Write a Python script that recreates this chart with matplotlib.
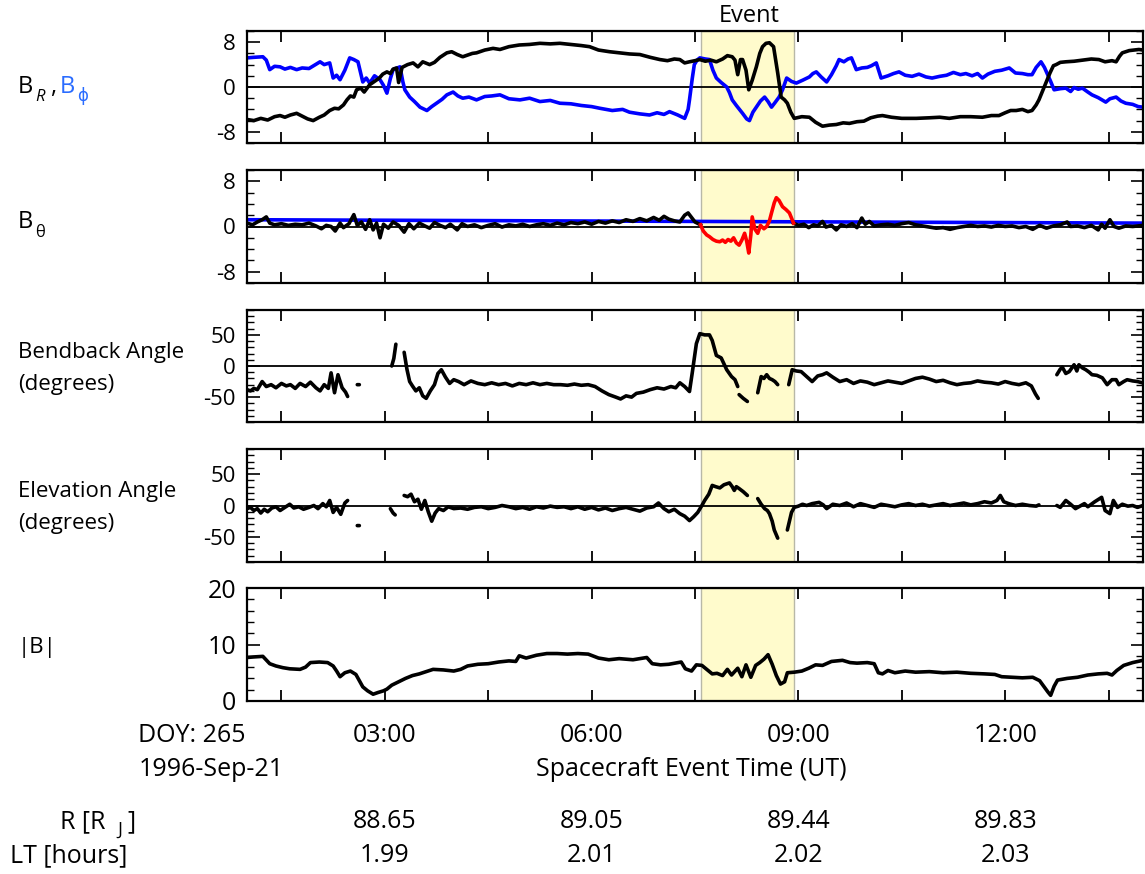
import matplotlib
matplotlib.use('Agg')
import matplotlib.pyplot as plt
from matplotlib.ticker import MultipleLocator
from matplotlib.transforms import blended_transform_factory
import numpy as np

plt.rcParams['font.family'] = ['Open Sans', 'DejaVu Sans']

nan = np.nan

# time in decimal hours UT, 1996-Sep-21
event_start, event_end = 7.58, 8.93

# B_R (black) and B_phi (blue), nT
br_pts = [(1.00, -5.8), (1.10, -6.0), (1.20, -5.6), (1.30, -5.9), (1.40, -5.3), (1.48, -5.1), (1.55, -5.4),
          (1.63, -5.0), (1.72, -4.7), (1.80, -5.2), (1.88, -5.7), (1.96, -6.0), (2.05, -5.4), (2.12, -5.0),
          (2.20, -4.2), (2.27, -3.8), (2.33, -3.9), (2.40, -3.2), (2.45, -2.3), (2.50, -1.6), (2.55, -1.8),
          (2.59, -0.5), (2.65, -0.2), (2.70, -0.9), (2.78, 0.4), (2.85, 1.0), (2.92, 1.6), (2.97, 2.3),
          (3.03, 2.7), (3.08, 2.4), (3.12, 3.2), (3.17, 3.4), (3.20, 0.8), (3.25, 3.5), (3.33, 4.0),
          (3.41, 4.3), (3.48, 3.6), (3.55, 4.5), (3.65, 4.0), (3.72, 4.4), (3.80, 5.3), (3.90, 6.1),
          (3.97, 6.3), (4.05, 5.8), (4.13, 5.4), (4.20, 5.7), (4.27, 6.0), (4.33, 6.1), (4.45, 6.6),
          (4.57, 6.9), (4.67, 6.7), (4.80, 7.2), (4.95, 7.5), (5.10, 7.6), (5.25, 7.8), (5.40, 7.7),
          (5.54, 7.8), (5.70, 7.6), (5.85, 7.4), (5.97, 7.2), (6.10, 6.6), (6.26, 6.3), (6.40, 6.1),
          (6.55, 5.9), (6.70, 5.8), (6.85, 5.3), (6.99, 4.9), (7.10, 4.7), (7.20, 5.0), (7.28, 4.9),
          (7.35, 4.3), (7.42, 4.5), (7.50, 4.7), (7.57, 4.9), (7.65, 4.6), (7.73, 4.8), (7.81, 4.5),
          (7.90, 5.0), (7.97, 5.6), (8.04, 5.4), (8.08, 4.8), (8.12, 2.2), (8.16, 4.9), (8.19, 4.9),
          (8.24, 3.0), (8.28, -0.5), (8.33, 1.2), (8.39, 3.6), (8.44, 6.0), (8.48, 7.2), (8.53, 7.8),
          (8.58, 7.9), (8.64, 7.2), (8.70, 2.5), (8.75, -1.8), (8.80, -2.3), (8.84, -2.9), (8.89, -4.5),
          (8.94, -5.6), (9.05, -5.3), (9.16, -5.4), (9.25, -6.3), (9.35, -7.0), (9.45, -6.8), (9.55, -6.7),
          (9.65, -6.4), (9.74, -6.5), (9.85, -6.2), (9.95, -6.1), (10.05, -5.5), (10.15, -5.2), (10.22, -5.1),
          (10.35, -5.4), (10.50, -5.6), (10.71, -5.6), (10.90, -5.5), (11.05, -5.4), (11.19, -5.6),
          (11.35, -5.3), (11.50, -5.3), (11.67, -5.4), (11.80, -5.1), (11.91, -5.1), (12.00, -4.6),
          (12.08, -4.2), (12.16, -4.2), (12.25, -4.0), (12.33, -4.4), (12.39, -4.2), (12.45, -3.2),
          (12.49, -2.3), (12.55, -0.5), (12.59, 0.7), (12.65, 2.5), (12.70, 3.8), (12.74, 4.0), (12.80, 4.4),
          (12.88, 4.5), (13.00, 4.6), (13.12, 4.8), (13.25, 5.0), (13.36, 4.9), (13.45, 4.5), (13.55, 4.7),
          (13.61, 4.5), (13.66, 5.5), (13.70, 6.1), (13.80, 6.5), (13.94, 6.7), (14.00, 6.6)]

bphi_pts = [(1.00, 5.2), (1.10, 5.3), (1.23, 5.4), (1.28, 4.8), (1.33, 3.1), (1.40, 3.7), (1.48, 3.6),
            (1.55, 3.2), (1.63, 3.5), (1.72, 3.1), (1.80, 3.4), (1.90, 3.3), (1.98, 3.9), (2.06, 4.5),
            (2.12, 4.0), (2.20, 4.3), (2.25, 1.6), (2.30, 2.1), (2.35, 1.3), (2.42, 3.0), (2.49, 5.2),
            (2.55, 4.9), (2.61, 4.5), (2.68, 0.9), (2.73, 1.6), (2.78, 0.7), (2.85, 2.0), (2.93, 1.3),
            (2.98, 0.3), (3.03, -1.1), (3.08, 1.5), (3.12, 3.1), (3.22, 3.6), (3.26, 1.0), (3.29, -0.5),
            (3.36, -1.8), (3.43, -2.6), (3.51, -3.6), (3.61, -4.2), (3.68, -3.5), (3.75, -2.9), (3.83, -2.2),
            (3.90, -1.4), (3.99, -0.9), (4.06, -1.6), (4.13, -2.0), (4.22, -1.8), (4.33, -2.3), (4.45, -1.7),
            (4.55, -1.6), (4.67, -1.4), (4.80, -2.1), (4.96, -2.3), (5.10, -2.0), (5.25, -2.6), (5.40, -2.4),
            (5.54, -2.9), (5.70, -3.0), (5.85, -3.3), (6.00, -3.5), (6.12, -3.8), (6.30, -4.2), (6.45, -4.0),
            (6.55, -4.5), (6.70, -4.8), (6.84, -5.0), (6.95, -4.6), (7.05, -4.9), (7.13, -4.4), (7.25, -5.0),
            (7.35, -5.6), (7.40, -4.0), (7.42, -2.3), (7.46, 1.5), (7.49, 4.0), (7.53, 4.8), (7.57, 5.2),
            (7.65, 5.0), (7.71, 4.9), (7.76, 3.0), (7.81, 1.6), (7.88, 0.8), (7.96, 0.0), (8.00, -1.0),
            (8.04, -2.3), (8.10, -3.3), (8.19, -4.7), (8.25, -5.7), (8.29, -6.0), (8.34, -4.5), (8.39, -3.6),
            (8.45, -2.5), (8.51, -1.8), (8.56, -2.6), (8.61, -3.6), (8.66, -2.8), (8.72, -1.8), (8.77, -0.5),
            (8.83, 1.6), (8.90, 1.0), (8.97, 0.7), (9.06, 1.2), (9.16, 1.8), (9.21, 2.4), (9.26, 2.7),
            (9.33, 1.8), (9.41, 0.9), (9.48, 2.2), (9.55, 3.8), (9.59, 4.9), (9.66, 4.5), (9.72, 5.0),
            (9.77, 5.2), (9.84, 3.1), (9.92, 3.4), (10.00, 3.5), (10.06, 3.8), (10.13, 4.3), (10.20, 1.6),
            (10.30, 2.0), (10.38, 2.4), (10.46, 2.7), (10.55, 2.1), (10.65, 1.9), (10.75, 2.3), (10.85, 1.8),
            (10.94, 1.6), (11.05, 1.9), (11.15, 2.1), (11.25, 2.6), (11.35, 2.2), (11.43, 2.4), (11.52, 2.0),
            (11.60, 2.4), (11.67, 1.6), (11.75, 2.3), (11.85, 2.8), (11.95, 3.0), (12.06, 3.4), (12.15, 2.5),
            (12.25, 2.4), (12.33, 2.2), (12.39, 2.2), (12.45, 3.5), (12.52, 4.5), (12.57, 3.5), (12.61, 2.4),
            (12.66, 1.0), (12.71, -0.5), (12.80, -0.3), (12.88, -0.2), (12.95, -0.8), (13.00, -0.1),
            (13.06, -0.4), (13.12, -0.2), (13.20, -0.9), (13.26, -1.4), (13.35, -1.9), (13.46, -2.7),
            (13.52, -2.1), (13.61, -1.8), (13.68, -2.5), (13.75, -2.9), (13.85, -3.1), (13.93, -3.5),
            (14.00, -3.6)]

# B_theta: black outside the event, red inside, blue reference level
bth_pre_pts = [(1.00, 0.6), (1.08, 0.3), (1.15, 0.8), (1.22, 1.2), (1.28, 1.7), (1.33, 0.6), (1.40, 0.3),
               (1.50, 0.5), (1.60, 0.2), (1.70, 0.4), (1.80, 0.3), (1.90, 0.6), (2.00, 0.1), (2.08, -0.4),
               (2.15, 0.2), (2.22, 0.0), (2.28, -0.8), (2.35, 0.6), (2.40, -0.2), (2.48, 0.5), (2.55, 2.1),
               (2.60, 0.2), (2.66, 0.8), (2.72, -0.5), (2.78, 1.2), (2.83, -0.6), (2.88, 0.6), (2.93, -2.0),
               (2.98, 0.4), (3.05, -0.3), (3.12, 0.8), (3.20, 0.2), (3.28, -1.0), (3.35, 0.5), (3.42, -0.4),
               (3.50, 0.6), (3.58, 0.1), (3.65, -0.3), (3.72, 0.7), (3.80, 0.2), (3.88, -0.2), (3.95, 0.4),
               (4.05, -0.6), (4.12, 0.5), (4.20, 0.0), (4.30, 0.3), (4.40, -0.2), (4.50, 0.2), (4.60, 0.5),
               (4.70, -0.1), (4.80, 0.3), (4.90, 0.1), (5.00, 0.4), (5.10, 0.0), (5.20, 0.3), (5.30, 0.5),
               (5.40, 0.2), (5.50, 0.6), (5.60, 0.3), (5.70, 0.7), (5.80, 0.5), (5.90, 0.8), (6.00, 0.4),
               (6.10, 0.9), (6.20, 0.6), (6.30, 1.0), (6.40, 0.7), (6.50, 1.2), (6.60, 0.9), (6.70, 1.4),
               (6.80, 1.0), (6.90, 1.6), (6.98, 1.1), (7.05, 1.8), (7.12, 1.3), (7.20, 1.0), (7.28, 0.8),
               (7.35, 2.0), (7.40, 2.4), (7.45, 1.6), (7.50, 0.8), (7.58, 0.3)]

bth_event_pts = [(7.58, 0.3), (7.62, -0.8), (7.67, -1.5), (7.71, -1.8), (7.76, -2.3), (7.81, -2.6),
                 (7.86, -2.7), (7.90, -2.4), (7.94, -2.8), (7.98, -2.3), (8.02, -2.6), (8.06, -2.0),
                 (8.10, -2.9), (8.14, -3.3), (8.18, -2.4), (8.22, -1.2), (8.25, -2.6), (8.28, -4.7),
                 (8.31, -1.5), (8.33, 1.7), (8.37, -0.5), (8.41, -1.2), (8.45, 0.2), (8.50, -0.4),
                 (8.54, 0.0), (8.58, 1.0), (8.61, 2.4), (8.65, 4.2), (8.68, 5.1), (8.72, 4.6), (8.77, 3.5),
                 (8.82, 3.0), (8.87, 2.4), (8.90, 1.5), (8.93, 0.6)]

bth_post_pts = [(8.93, 0.6), (9.00, 0.2), (9.08, 0.4), (9.15, -0.2), (9.22, 0.3), (9.28, 0.1), (9.35, 0.9),
                (9.40, -0.1), (9.48, 0.2), (9.55, -0.6), (9.62, 0.3), (9.70, 0.0), (9.78, 0.5), (9.85, -0.2),
                (9.92, 1.5), (9.97, 0.4), (10.03, 0.9), (10.10, 0.1), (10.20, 0.3), (10.30, 0.4), (10.40, 0.2),
                (10.50, 0.5), (10.60, 0.7), (10.70, 0.3), (10.80, 0.1), (10.90, -0.1), (11.00, -0.3),
                (11.10, -0.2), (11.20, -0.5), (11.30, -0.2), (11.40, 0.0), (11.50, 0.2), (11.60, 0.0),
                (11.70, 0.1), (11.80, -0.1), (11.90, 0.2), (12.00, 0.0), (12.10, 0.1), (12.20, -0.2),
                (12.30, 0.0), (12.40, -0.5), (12.50, 0.2), (12.60, -0.3), (12.70, 0.1), (12.80, 0.3),
                (12.90, 0.8), (12.95, 0.0), (13.05, 0.1), (13.15, -0.2), (13.25, 0.2), (13.35, -0.6),
                (13.40, 0.4), (13.45, -0.3), (13.52, 1.2), (13.58, 0.0), (13.65, -0.3), (13.75, 0.1),
                (13.85, 0.0), (14.00, 0.2)]

bth_ref_pts = [(1.00, 1.2), (14.00, 0.6)]

# bendback angle, degrees (nan = data gap)
bend_pts = [(1.00, -38), (1.05, -40), (1.10, -36), (1.15, -38), (1.22, -25), (1.28, -33), (1.35, -30),
            (1.42, -35), (1.50, -28), (1.57, -32), (1.63, -30), (1.70, -36), (1.77, -28), (1.85, -33),
            (1.92, -26), (2.00, -35), (2.06, -40), (2.12, -30), (2.18, -36), (2.22, -11), (2.27, -43),
            (2.32, -14), (2.38, -35), (2.43, -42), (2.46, -49), (2.50, nan),
            (2.60, -30), (2.63, -30), (2.70, nan),
            (3.10, 0), (3.13, 12), (3.16, 35), (3.20, nan),
            (3.28, 22), (3.32, -5), (3.36, -25), (3.40, -32), (3.45, -40), (3.50, -35), (3.55, -48),
            (3.60, -52), (3.66, -40), (3.72, -30), (3.77, -12), (3.82, -6), (3.88, -18), (3.94, -28),
            (4.00, -22), (4.07, -25), (4.15, -30), (4.25, -24), (4.35, -28), (4.45, -30), (4.55, -27),
            (4.65, -30), (4.75, -28), (4.85, -32), (4.95, -28), (5.05, -30), (5.15, -27), (5.25, -30),
            (5.35, -28), (5.45, -30), (5.55, -30), (5.65, -31), (5.75, -29), (5.85, -31), (5.95, -30),
            (6.05, -33), (6.15, -40), (6.25, -46), (6.35, -50), (6.42, -53), (6.50, -48), (6.58, -50),
            (6.65, -44), (6.75, -42), (6.85, -38), (6.95, -35), (7.05, -37), (7.15, -33), (7.22, -35),
            (7.28, -27), (7.35, -33), (7.42, -41), (7.46, -11), (7.52, 36), (7.57, 52), (7.64, 50),
            (7.71, 50), (7.75, 41), (7.81, 17), (7.88, 13), (7.96, -6), (8.03, -17), (8.08, -22),
            (8.12, -33), (8.13, nan),
            (8.14, -46), (8.20, -52), (8.26, -57), (8.30, nan),
            (8.41, -43), (8.46, -17), (8.50, -20), (8.54, -14), (8.58, -20), (8.62, -22), (8.66, -25),
            (8.70, -30), (8.75, nan),
            (8.86, -30), (8.91, -6), (8.97, -8), (9.04, -9), (9.10, -15), (9.20, -25), (9.28, -16),
            (9.35, -14), (9.41, -11), (9.50, -18), (9.60, -25), (9.70, -22), (9.80, -28), (9.90, -24),
            (10.00, -26), (10.10, -30), (10.20, -27), (10.30, -24), (10.40, -26), (10.50, -28),
            (10.60, -24), (10.70, -20), (10.80, -18), (10.90, -21), (11.00, -25), (11.10, -23),
            (11.20, -27), (11.30, -30), (11.40, -28), (11.50, -27), (11.60, -24), (11.70, -26),
            (11.80, -27), (11.90, -29), (12.00, -25), (12.10, -28), (12.20, -30), (12.30, -27),
            (12.38, -32), (12.44, -45), (12.48, -52), (12.60, nan),
            (12.75, -14), (12.80, -5), (12.83, -2), (12.88, -12), (12.93, -9), (13.00, 2), (13.04, -8),
            (13.07, 2), (13.12, -3), (13.17, -6), (13.22, -10), (13.26, -14), (13.33, -15), (13.41, -19),
            (13.48, -30), (13.55, -22), (13.61, -22), (13.65, -30), (13.72, -25), (13.77, -22),
            (13.85, -24), (13.92, -25), (13.99, -27)]

# elevation angle, degrees
elev_pts = [(1.00, -5), (1.05, -3), (1.10, -8), (1.15, -5), (1.20, -12), (1.25, -6), (1.30, -10),
            (1.36, -4), (1.42, -2), (1.48, -8), (1.55, -3), (1.62, 2), (1.68, -4), (1.75, -2), (1.82, -6),
            (1.90, -3), (1.97, 0), (2.03, -5), (2.10, 3), (2.15, -2), (2.20, 8), (2.25, -11), (2.30, -3),
            (2.36, -14), (2.42, 4), (2.46, 8), (2.50, nan),
            (2.60, -32), (2.63, -32), (2.70, nan),
            (3.08, -5), (3.12, -12), (3.15, -15), (3.20, nan),
            (3.28, 16), (3.33, 14), (3.38, 18), (3.43, 6), (3.48, 10), (3.53, -6), (3.58, 8), (3.63, -10),
            (3.68, -25), (3.73, -12), (3.78, -5), (3.85, -8), (3.92, -2), (4.00, -5), (4.10, -4),
            (4.20, -6), (4.30, -3), (4.40, -2), (4.50, -5), (4.60, -3), (4.70, 0), (4.80, -2), (4.90, -5),
            (5.00, -3), (5.10, -6), (5.20, -2), (5.30, -4), (5.40, -1), (5.50, -3), (5.60, -2), (5.70, -5),
            (5.80, -2), (5.90, -6), (6.00, -3), (6.10, -7), (6.20, -4), (6.30, -8), (6.40, -5), (6.50, -3),
            (6.60, -6), (6.70, -9), (6.80, -4), (6.90, -2), (6.97, 4), (7.05, -5), (7.12, -10), (7.20, -6),
            (7.28, -13), (7.35, -17), (7.42, -24), (7.48, -18), (7.54, -11), (7.60, 0), (7.64, 8),
            (7.70, 18), (7.75, 32), (7.80, 30), (7.86, 28), (7.92, 33), (8.00, 36), (8.04, 30), (8.07, 24),
            (8.10, 30), (8.14, 27), (8.20, 22), (8.26, 16), (8.30, nan),
            (8.41, 11), (8.46, 2), (8.51, -5), (8.55, -8), (8.58, -13), (8.62, -25), (8.65, -39),
            (8.70, -52), (8.75, nan),
            (8.84, -39), (8.87, -25), (8.90, -11), (8.94, -3), (9.00, -1), (9.06, 2), (9.12, 0), (9.20, 3),
            (9.30, 5), (9.36, 1), (9.41, -5), (9.50, 2), (9.60, 0), (9.70, 4), (9.80, -2), (9.90, 3),
            (10.00, 0), (10.10, -3), (10.20, 2), (10.30, 0), (10.40, -2), (10.50, 1), (10.60, 3),
            (10.70, 0), (10.80, 2), (10.90, -1), (11.00, 1), (11.10, 3), (11.20, 0), (11.30, 2),
            (11.40, 4), (11.50, 1), (11.60, 3), (11.70, 6), (11.80, 4), (11.88, 8), (11.93, 16),
            (11.98, 6), (12.05, 3), (12.15, 0), (12.25, 2), (12.35, 0), (12.45, -1), (12.49, 1), (12.60, nan),
            (12.75, 0), (12.80, -3), (12.88, 8), (12.95, 2), (13.02, -5), (13.10, 0), (13.15, 3),
            (13.20, -2), (13.30, 6), (13.40, 13), (13.45, -8), (13.52, -13), (13.57, 8), (13.63, -3),
            (13.70, 2), (13.78, -1), (13.85, 0), (13.92, -3), (14.00, 0)]

# |B|, nT
bmag_pts = [(1.00, 7.7), (1.10, 7.8), (1.23, 7.9), (1.33, 6.6), (1.42, 6.2), (1.52, 5.9), (1.62, 5.7),
            (1.77, 5.6), (1.85, 6.0), (1.92, 6.8), (2.05, 6.9), (2.17, 6.8), (2.25, 6.2), (2.30, 5.3),
            (2.35, 4.3), (2.42, 5.0), (2.50, 5.3), (2.58, 4.7), (2.68, 2.5), (2.75, 1.8), (2.83, 1.2),
            (2.90, 1.5), (2.98, 1.8), (3.03, 2.1), (3.10, 2.8), (3.20, 3.4), (3.30, 4.0), (3.40, 4.5),
            (3.50, 4.8), (3.60, 5.2), (3.70, 5.6), (3.85, 5.5), (4.00, 5.3), (4.10, 5.6), (4.20, 6.2),
            (4.35, 6.5), (4.50, 6.6), (4.65, 6.9), (4.80, 7.1), (4.90, 7.0), (4.95, 8.0), (5.05, 7.6),
            (5.20, 8.1), (5.35, 8.4), (5.50, 8.4), (5.65, 8.3), (5.80, 8.4), (5.95, 8.3), (6.10, 7.6),
            (6.25, 7.3), (6.40, 7.5), (6.60, 7.3), (6.80, 7.7), (6.88, 6.6), (7.00, 6.4), (7.12, 6.5),
            (7.30, 6.9), (7.36, 5.7), (7.45, 5.3), (7.52, 6.4), (7.60, 6.3), (7.68, 5.5), (7.75, 4.8),
            (7.82, 4.9), (7.90, 4.5), (7.97, 5.6), (8.03, 4.6), (8.12, 5.8), (8.18, 4.3), (8.24, 6.4),
            (8.31, 4.2), (8.38, 6.3), (8.44, 6.8), (8.50, 7.4), (8.56, 8.2), (8.62, 6.5), (8.68, 4.5),
            (8.74, 3.0), (8.80, 3.4), (8.84, 5.0), (8.94, 5.1), (9.05, 5.3), (9.15, 5.8), (9.25, 6.4),
            (9.35, 6.3), (9.48, 7.0), (9.64, 7.2), (9.75, 6.8), (9.85, 6.7), (10.00, 6.8), (10.10, 6.6),
            (10.16, 5.0), (10.22, 4.8), (10.30, 5.4), (10.40, 5.0), (10.55, 5.3), (10.70, 5.1),
            (10.90, 5.2), (11.10, 5.0), (11.30, 5.1), (11.50, 4.9), (11.70, 4.8), (11.85, 4.7),
            (11.95, 4.3), (12.10, 4.2), (12.25, 4.1), (12.40, 4.2), (12.50, 3.6), (12.56, 2.6),
            (12.62, 1.6), (12.66, 1.0), (12.71, 2.6), (12.76, 3.7), (12.90, 4.0), (13.05, 4.2),
            (13.20, 4.6), (13.35, 4.8), (13.48, 4.9), (13.55, 4.6), (13.62, 5.4), (13.72, 6.3),
            (13.85, 6.8), (14.00, 7.2)]

# bottom annotation rows
ut_ticks = [3, 6, 9, 12]
ut_labels = ['03:00', '06:00', '09:00', '12:00']
r_labels = ['88.65', '89.05', '89.44', '89.83']
lt_labels = ['1.99', '2.01', '2.02', '2.03']


def unzip(pts):
    a = np.array(pts, dtype=float)
    return a[:, 0], a[:, 1]


W, H = 1145, 874
fig = plt.figure(figsize=(W / 100, H / 100), dpi=100)

panels = [(31, 143), (170, 283), (310, 422), (449, 562), (588, 701)]
axes = [fig.add_axes([247 / W, 1 - b / H, 896 / W, (b - t) / H]) for t, b in panels]

for ax in axes:
    ax.set_xlim(1, 14)
    ax.axvspan(event_start, event_end, facecolor='#fffbcc', edgecolor='#b8b8a8', lw=1, zorder=0)
    ax.xaxis.set_major_locator(MultipleLocator(1.5))
    ax.tick_params(axis='x', which='major', direction='in', length=8, width=1.3,
                   top=True, bottom=True, labelbottom=False)
    ax.tick_params(axis='y', which='major', direction='in', length=9, width=1.2,
                   left=True, right=True, labelsize=16, pad=8)
    ax.tick_params(axis='y', which='minor', direction='in', length=5, width=1.0, left=True, right=True)
    for s in ax.spines.values():
        s.set_linewidth(1.6)

lw = 2.6
ax1, ax2, ax3, ax4, ax5 = axes

# panel 1
ax1.axhline(0, color='black', lw=1.3, zorder=1)
t, v = unzip(bphi_pts)
ax1.plot(t, v, color='#0000ff', lw=lw, zorder=2)
t, v = unzip(br_pts)
ax1.plot(t, v, color='black', lw=lw, zorder=3)
ax1.set_ylim(-10, 10)
ax1.set_yticks([-8, 0, 8])
ax1.set_yticklabels(['-8', '0', '8'])
ax1.yaxis.set_minor_locator(MultipleLocator(2))

# panel 2
ax2.axhline(0, color='black', lw=1.3, zorder=1)
t, v = unzip(bth_ref_pts)
ax2.plot(t, v, color='#0000ff', lw=lw, zorder=2)
t, v = unzip(bth_pre_pts)
ax2.plot(t, v, color='black', lw=lw, zorder=3)
t, v = unzip(bth_post_pts)
ax2.plot(t, v, color='black', lw=lw, zorder=3)
t, v = unzip(bth_event_pts)
ax2.plot(t, v, color='#ff0000', lw=lw, zorder=4)
ax2.set_ylim(-10, 10)
ax2.set_yticks([-8, 0, 8])
ax2.set_yticklabels(['-8', '0', '8'])
ax2.yaxis.set_minor_locator(MultipleLocator(2))

# panels 3 and 4
for ax, pts in [(ax3, bend_pts), (ax4, elev_pts)]:
    ax.axhline(0, color='black', lw=1.3, zorder=1)
    t, v = unzip(pts)
    ax.plot(t, v, color='black', lw=lw, zorder=3, solid_capstyle='round')
    ax.set_ylim(-90, 90)
    ax.set_yticks([-50, 0, 50])
    ax.set_yticklabels(['-50', '0', '50'])
    ax.yaxis.set_minor_locator(MultipleLocator(10))

# panel 5
t, v = unzip(bmag_pts)
ax5.plot(t, v, color='black', lw=lw, zorder=3)
ax5.set_ylim(0, 20)
ax5.set_yticks([0, 10, 20])
ax5.yaxis.set_minor_locator(MultipleLocator(2))
ax5.tick_params(axis='y', which='major', labelsize=18)


def fy(ypx):
    return 1 - ypx / H


def fx(xpx):
    return xpx / W


# left-hand labels
fig.text(fx(18), fy(93), 'B', fontsize=17, va='baseline')
fig.text(fx(35), fy(101), 'R', fontsize=12, style='italic', va='baseline')
fig.text(fx(50), fy(93), ',', fontsize=17, va='baseline')
fig.text(fx(60), fy(93), 'B', fontsize=17, va='baseline', color='#2a6cff')
fig.text(fx(77), fy(101), '\u03d5', fontsize=12, va='baseline', color='#2a6cff')

fig.text(fx(18), fy(228), 'B', fontsize=17, va='baseline')
fig.text(fx(35), fy(237), '\u03b8', fontsize=12, va='baseline')

fig.text(fx(18), fy(358), 'Bendback Angle', fontsize=16, va='baseline')
fig.text(fx(18), fy(390), '(degrees)', fontsize=16, va='baseline')
fig.text(fx(18), fy(497), 'Elevation Angle', fontsize=16, va='baseline')
fig.text(fx(18), fy(529), '(degrees)', fontsize=16, va='baseline')
fig.text(fx(18), fy(653), '|B|', fontsize=16, va='baseline')

fig.text(fx(749), fy(16), 'Event', fontsize=17, ha='center', va='center')

# bottom rows
tr = blended_transform_factory(ax5.transData, fig.transFigure)
for x, a, b, c in zip(ut_ticks, ut_labels, r_labels, lt_labels):
    fig.text(x, fy(736), a, transform=tr, fontsize=18, ha='center', va='center')
    fig.text(x, fy(822), b, transform=tr, fontsize=18, ha='center', va='center')
    fig.text(x, fy(856), c, transform=tr, fontsize=18, ha='center', va='center')

fig.text(fx(138), fy(736), 'DOY: 265', fontsize=18, va='center')
fig.text(fx(139), fy(770), '1996-Sep-21', fontsize=18, va='center')
fig.text(fx(691), fy(770), 'Spacecraft Event Time (UT)', fontsize=18, ha='center', va='center')
fig.text(fx(60), fy(822), 'R [R', fontsize=18, va='center')
fig.text(fx(117), fy(830), 'J', fontsize=13, va='center')
fig.text(fx(127), fy(822), ']', fontsize=18, va='center')
fig.text(fx(10), fy(856), 'LT [hours]', fontsize=18, va='center')

fig.savefig('out.png', dpi=100)
